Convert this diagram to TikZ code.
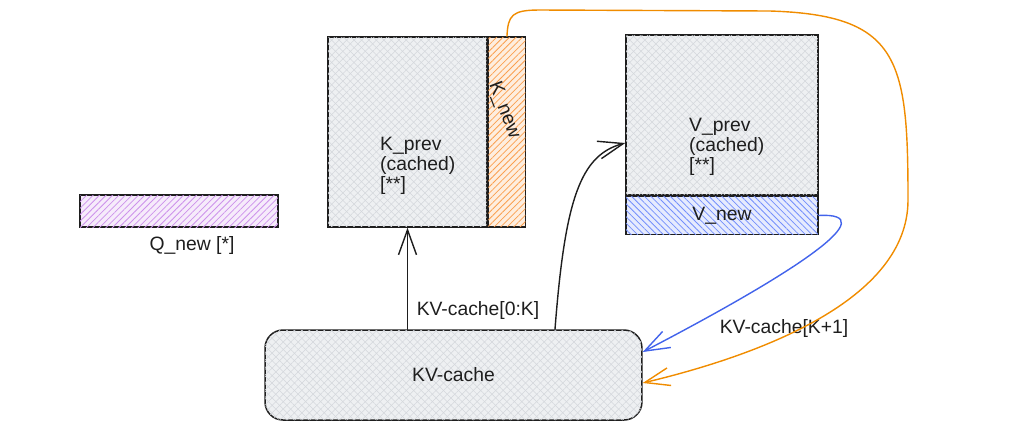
\documentclass[tikz,border=0pt]{standalone}
\usepackage{fontspec}
\setmainfont{Liberation Sans}
\usetikzlibrary{arrows.meta,positioning,patterns.meta}
\definecolor{ink}{RGB}{30,30,30}
\definecolor{boxgray}{RGB}{238,240,242}
\definecolor{hatchgray}{RGB}{212,215,220}
\definecolor{korange}{RGB}{240,140,0}
\definecolor{kstrip}{RGB}{250,160,80}
\definecolor{vblue}{RGB}{66,99,235}
\definecolor{vstrip}{RGB}{116,143,252}
\definecolor{qpurple}{RGB}{205,145,235}

\begin{document}
\begin{tikzpicture}[x=0.02cm, y=0.02cm,
  box/.style={draw=ink, line width=0.85pt, inner sep=0pt},
  graybox/.style={box, fill=boxgray,
    postaction={pattern={Lines[angle=45,distance=3pt,line width=0.3pt]}, pattern color=hatchgray},
    postaction={pattern={Lines[angle=-45,distance=3pt,line width=0.3pt]}, pattern color=hatchgray}},
  hatch/.style 2 args={box, fill=#1!18,
    postaction={pattern={Lines[angle=#2,distance=2.6pt,line width=0.45pt]}, pattern color=#1}},
  txt/.style={font=\fontsize{11}{11.5}\selectfont, text=ink},
  arr/.style={line width=0.8pt, line cap=round, -{Straight Barb[length=5mm,width=3.6mm]}}]
\useasboundingbox (0,0) rectangle (1017,-424);
% query row
\node[hatch={qpurple}{45}, minimum width=3.96cm, minimum height=0.64cm] (qnew) at (179,-211) {};
\node[txt] (qlabel) at (192,-245) {Q\_new [*]};
% keys
\node[graybox, minimum width=3.18cm, minimum height=3.8cm] (kprev) at (407.5,-132) {};
\node[hatch={kstrip}{45}, minimum width=0.74cm, minimum height=3.8cm, right=0pt of kprev] (knew) {};
\node[txt, anchor=west, align=left] (kprevtxt) at (374,-166) {K\_prev\\(cached)\\{[**]}};
\node[txt, rotate=-69] (knewtxt) at (504,-110) {K\_new};
% values
\node[graybox, minimum width=3.84cm, minimum height=3.2cm] (vprev) at (722,-115) {};
\node[hatch={vstrip}{-45}, txt, minimum width=3.84cm, minimum height=0.76cm, below=0pt of vprev] (vnew) {V\_new};
\node[txt, anchor=west, align=left] (vprevtxt) at (683,-147) {V\_prev\\(cached)\\{[**]}};
% cache
\node[graybox, txt, rounded corners=0.36cm, minimum width=7.54cm, minimum height=1.8cm] (kvcache) at (453.5,-375) {KV-cache};
\node[txt] (readlabel) at (478,-310) {KV-cache[0:K]};
\node[txt] (writelabel) at (784,-328) {KV-cache[K+1]};
% read from cache
\draw[arr, ink] (kprev.south |- kvcache.north) -- (kprev.south);
\draw[arr, ink] ([xshift=2.03cm]kvcache.north) .. controls (565,-200) and (580,-155) .. ([yshift=-0.56cm]vprev.west);
% write back to cache
\draw[arr, vblue] (vnew.east) .. controls (885,-212) and (800,-270) .. ([yshift=0.46cm]kvcache.east);
\draw[arr, korange] (knew.north) .. controls (508,-15) and (512,-10) .. (540,-10) -- (770,-11)
  .. controls (900,-15) and (908,-60) .. (908,-200)
  .. controls (908,-300) and (760,-355) .. ([yshift=-0.16cm]kvcache.east);
\end{tikzpicture}
\end{document}
